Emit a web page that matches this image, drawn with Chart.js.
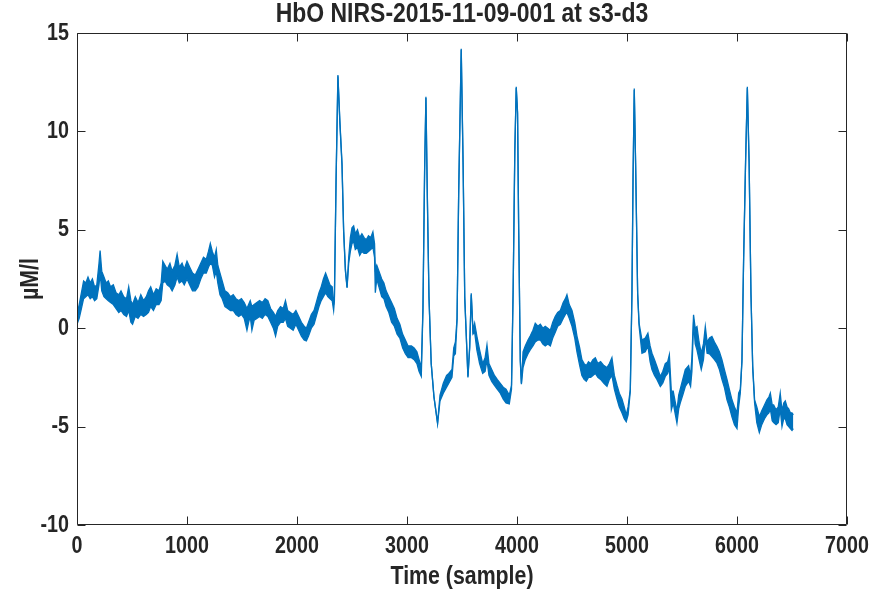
<!DOCTYPE html>
<html>
<head>
<meta charset="utf-8">
<title>HbO NIRS-2015-11-09-001 at s3-d3</title>
<script src="https://cdn.jsdelivr.net/npm/chart.js@4.4.1/dist/chart.umd.min.js"></script>
<style>
  html, body { margin: 0; padding: 0; background: #fff; }
  canvas { display: block; }
</style>
</head>
<body>
<canvas id="chart" width="872" height="590"></canvas>
<script>
// sample index, and upper / lower edge of the noisy trace (µM/l)
const samples = [
  0, 20, 40, 60, 80, 100, 120, 140, 160, 180,
  200, 210, 225, 245, 265, 285, 305, 330, 355, 380,
  400, 425, 450, 470, 490, 505, 530, 555, 580, 605,
  630, 650, 670, 695, 720, 745, 765, 780, 800, 820,
  845, 865, 890, 910, 930, 955, 975, 1000, 1025, 1050,
  1075, 1100, 1125, 1150, 1175, 1195, 1212, 1230, 1250, 1266,
  1280, 1300, 1320, 1345, 1370, 1395, 1420, 1445, 1470, 1495,
  1520, 1545, 1560, 1575, 1590, 1610, 1635, 1660, 1685, 1710,
  1735, 1760, 1785, 1805, 1825, 1850, 1875, 1895, 1915, 1940,
  1965, 1990, 2015, 2040, 2065, 2085, 2105, 2130, 2155, 2180,
  2200, 2220, 2240, 2260, 2280, 2300, 2320, 2333, 2340, 2355,
  2372, 2390, 2409, 2424, 2440, 2455, 2470, 2485, 2500, 2515,
  2530, 2550, 2570, 2590, 2610, 2630, 2650, 2670, 2690, 2705,
  2712, 2725, 2745, 2770, 2790, 2810, 2835, 2860, 2885, 2910,
  2935, 2960, 2985, 3010, 3040, 3065, 3090, 3110, 3130, 3145,
  3160, 3172, 3185, 3200, 3220, 3245, 3278, 3300, 3330, 3360,
  3380, 3409, 3425, 3440, 3455, 3470, 3493, 3510, 3525, 3554,
  3570, 3584, 3600, 3615, 3635, 3660, 3688, 3710, 3727, 3745,
  3770, 3795, 3820, 3848, 3875, 3900, 3930, 3950, 3965, 3980,
  3993, 4005, 4015, 4030, 4040, 4055, 4075, 4100, 4120, 4145,
  4166, 4190, 4212, 4235, 4257, 4280, 4303, 4325, 4348, 4370,
  4394, 4420, 4440, 4454, 4475, 4500, 4525, 4545, 4570, 4590,
  4610, 4630, 4650, 4670, 4690, 4712, 4735, 4760, 4790, 4818,
  4840, 4863, 4885, 4909, 4930, 4954, 4975, 4993, 5010, 5030,
  5045, 5055, 5066, 5078, 5097, 5110, 5136, 5166, 5190, 5210,
  5227, 5250, 5272, 5303, 5325, 5348, 5370, 5385, 5403, 5420,
  5440, 5454, 5470, 5484, 5507, 5530, 5560, 5578, 5590, 5605,
  5620, 5636, 5655, 5675, 5695, 5712, 5728, 5750, 5772, 5795,
  5818, 5840, 5863, 5885, 5909, 5930, 5954, 5977, 6000, 6015,
  6030, 6045, 6060, 6078, 6094, 6110, 6127, 6143, 6160, 6180,
  6203, 6225, 6250, 6272, 6290, 6303, 6320, 6333, 6355, 6375,
  6393, 6409, 6425, 6439, 6455, 6470, 6485, 6500, 6512
]

const upper = [
  0.7, 1.2, 1.8, 2.4, 2.3, 2.6, 2.3, 2.5, 2.1, 2.2,
  3.3, 3.95, 2.9, 2.6, 2.3, 2.4, 2.1, 2.2, 1.8, 1.7,
  1.9, 1.6, 1.5, 2.1, 1.4, 1.2, 1.6, 1.3, 1.7, 1.4,
  1.6, 1.9, 2.1, 1.7, 2.0, 1.9, 2.3, 3.4, 3.2, 3.0,
  3.3, 2.9, 3.2, 3.75, 3.1, 3.3, 3.0, 3.4, 3.1, 2.8,
  2.7, 3.0, 3.3, 3.6, 3.5, 3.9, 4.3, 3.9, 3.6, 4.0,
  3.2, 2.8, 2.4, 1.9, 1.8, 1.6, 1.7, 1.5, 1.4, 1.5,
  1.3, 1.0, 1.2, 1.4, 1.1, 1.2, 1.3, 1.4, 1.3, 1.5,
  1.4, 1.0, 0.8, 0.6, 0.9, 1.1, 1.0, 1.4, 0.9, 0.8,
  0.7, 0.9, 0.6, 0.3, 0.1, 0.0, 0.3, 0.7, 0.9, 1.4,
  1.8, 2.1, 2.5, 2.8, 2.5, 2.2, 2.1, 1.2, 1.6, 7.5,
  12.86, 10.5, 8.4, 5.0, 3.0, 2.1, 3.6, 4.6, 5.1, 5.2,
  4.8, 5.0, 4.6, 4.8, 4.6, 4.5, 4.7, 4.6, 4.9, 4.3,
  3.0, 3.2, 2.9, 2.5, 2.3, 1.9, 1.6, 1.3, 1.0, 0.5,
  0.2, -0.3, -0.6, -0.9, -0.9, -1.0, -1.2, -1.6, -2.0, 1.0,
  8.0, 11.76, 6.7, 1.6, -1.78, -3.47, -4.82, -3.4, -2.8, -2.4,
  -2.3, -2.1, -1.0, -0.7, 0.5, 7.0, 14.2, 8.4, 1.6, -2.45,
  -0.9, 1.78, -0.1, 0.25, -0.4, -1.1, -1.8, -1.5, -0.85, -1.8,
  -2.1, -2.4, -2.6, -2.8, -3.0, -3.1, -3.4, -2.9, 2.0, 9.0,
  12.27, 11.0, 5.2, -1.6, -2.8, -1.2, -0.9, -0.6, -0.4, -0.1,
  0.25, 0.1, 0.2, 0.0, 0.1, 0.0, -0.1, 0.3, 0.6, 0.8,
  0.9, 1.3, 1.5, 1.7, 1.2, 0.9, 0.3, -0.4, -1.0, -1.6,
  -1.8, -1.9, -1.7, -1.8, -1.6, -1.5, -1.8, -1.7, -1.9, -2.0,
  -1.8, -1.5, -2.4, -2.9, -3.3, -3.6, -4.0, -4.4, -4.0, -3.1,
  1.8, 7.7, 12.18, 8.5, 1.78, 0.25, -0.6, -0.5, -0.25, -0.9,
  -1.27, -1.6, -1.95, -2.45, -2.2, -1.8, -1.7, -1.35, -3.2, -3.2,
  -3.8, -4.2, -3.4, -3.1, -2.6, -2.1, -1.9, -2.4, -1.5, 0.68,
  0.0, 0.08, -0.7, -1.27, -0.8, 0.08, -0.7, -0.5, -0.42, -0.7,
  -0.93, -1.2, -1.6, -2.1, -2.6, -3.1, -3.64, -4.0, -4.3, -3.3,
  -3.1, -1.6, 3.5, 8.5, 12.27, 8.5, 1.78, -1.95, -3.64, -4.0,
  -4.5, -4.2, -3.9, -3.64, -3.5, -3.3, -3.9, -3.9, -4.15, -4.0,
  -3.3, -4.2, -3.8, -3.7, -4.0, -4.1, -4.3, -4.3, -4.4
]

const lower = [
  0.2, 0.5, 1.0, 1.5, 1.6, 1.7, 1.5, 1.6, 1.4, 1.5,
  2.2, 2.8, 1.9, 1.6, 1.5, 1.4, 1.3, 1.2, 1.0, 0.8,
  0.9, 0.7, 0.6, 0.9, 0.3, 0.2, 0.6, 0.5, 0.7, 0.6,
  0.7, 0.8, 1.1, 0.9, 1.2, 1.2, 1.4, 2.3, 2.4, 2.2,
  2.1, 1.9, 2.2, 2.6, 2.3, 2.4, 2.2, 2.5, 2.2, 1.9,
  1.9, 2.1, 2.5, 2.8, 2.8, 3.1, 3.3, 3.2, 2.6, 2.9,
  2.3, 1.7, 1.5, 1.1, 1.0, 0.9, 0.9, 0.7, 0.6, 0.7,
  0.5, -0.1, 0.3, 0.6, -0.1, 0.4, 0.5, 0.6, 0.5, 0.7,
  0.6, 0.3, 0.0, -0.4, 0.1, 0.3, 0.3, 0.5, 0.1, 0.0,
  -0.1, 0.2, -0.1, -0.4, -0.6, -0.65, -0.4, 0.0, 0.2, 0.7,
  1.1, 1.4, 1.6, 1.8, 1.6, 1.5, 1.4, 0.9, 1.4, 7.4,
  12.8, 10.4, 8.3, 4.9, 2.9, 2.05, 3.3, 3.9, 4.3, 4.4,
  4.0, 4.1, 3.7, 3.9, 3.8, 3.8, 3.9, 4.0, 4.1, 3.6,
  1.8, 2.5, 2.1, 1.6, 1.5, 1.1, 0.8, 0.3, 0.1, -0.3,
  -0.5, -1.0, -1.3, -1.5, -1.5, -1.6, -1.8, -2.2, -2.45, 0.9,
  7.9, 11.7, 6.6, 1.5, -1.8, -3.5, -4.85, -3.7, -3.3, -3.0,
  -2.8, -2.5, -1.4, -1.3, 0.4, 6.9, 14.15, 8.3, 1.5, -2.5,
  -1.0, 1.7, -0.3, -0.2, -1.1, -1.8, -2.3, -2.2, -1.6, -2.4,
  -2.7, -2.9, -3.1, -3.3, -3.6, -3.8, -3.85, -3.1, 1.9, 8.9,
  12.2, 10.9, 5.1, -1.7, -2.85, -2.0, -1.6, -1.3, -1.1, -0.9,
  -0.7, -0.6, -0.6, -0.8, -0.9, -0.8, -0.9, -0.5, -0.2, 0.1,
  0.2, 0.5, 0.7, 0.8, 0.5, 0.1, -0.5, -1.2, -1.9, -2.4,
  -2.6, -2.7, -2.5, -2.5, -2.4, -2.3, -2.5, -2.6, -2.8, -2.95,
  -2.6, -2.4, -3.1, -3.6, -4.0, -4.3, -4.6, -4.75, -4.4, -3.2,
  1.7, 7.6, 12.1, 8.4, 1.7, 0.1, -1.27, -1.2, -0.9, -1.7,
  -2.1, -2.4, -2.6, -2.96, -2.8, -2.45, -2.3, -2.0, -4.15, -3.8,
  -4.4, -4.82, -4.1, -3.8, -3.4, -2.96, -2.7, -2.96, -2.2, 0.3,
  -0.8, -1.1, -1.6, -2.1, -1.6, -0.5, -1.27, -1.3, -1.44, -1.6,
  -1.78, -2.1, -2.6, -3.0, -3.64, -4.0, -4.5, -4.9, -5.1, -4.0,
  -3.3, -1.7, 3.4, 8.4, 12.2, 8.4, 1.7, -2.05, -3.8, -4.8,
  -5.3, -4.9, -4.6, -4.4, -4.3, -4.1, -4.7, -4.8, -4.9, -4.8,
  -4.1, -5.0, -4.6, -4.6, -4.9, -5.0, -5.1, -5.2, -5.1
]

const xTicks = [0, 1000, 2000, 3000, 4000, 5000, 6000, 7000]
const yTicks = [-10, -5, 0, 5, 10, 15]

const blue = '#0072bd'
const axisColor = '#262626'
const family = "'Liberation Sans', Arial, Helvetica, sans-serif"

const toPoints = (vals) => samples.map((s, i) => ({ x: s, y: vals[i] }))

const canvas = document.getElementById('chart')
const ctx2d = canvas.getContext('2d')

// the figure's lettering is condensed; no narrow face is installed,
// so squeeze every glyph run horizontally around its anchor point
const rawFillText = ctx2d.fillText.bind(ctx2d)
ctx2d.fillText = function (text, x, y) {
  this.save()
  this.translate(x, y)
  this.scale(0.82, 1)
  rawFillText(text, 0, 0)
  this.restore()
}

// matlab-like box, ticks pointing inwards on all four sides
const boxPlugin = {
  id: 'matlabBox',
  afterDatasetsDraw(chart) {
    const { ctx, chartArea: a, scales: { x, y } } = chart
    const len = 8
    const L = Math.round(a.left) + 0.5
    const R = Math.round(a.right) - 0.5
    const T = Math.round(a.top) + 0.5
    const B = Math.round(a.bottom) - 0.5
    ctx.save()
    ctx.strokeStyle = axisColor
    ctx.lineWidth = 1
    ctx.beginPath()
    ctx.rect(L, T, R - L, B - T)
    xTicks.forEach((v) => {
      const px = Math.round(x.getPixelForValue(v)) + 0.5
      ctx.moveTo(px, B); ctx.lineTo(px, B - len)
      ctx.moveTo(px, T); ctx.lineTo(px, T + len)
    })
    yTicks.forEach((v) => {
      const py = Math.round(y.getPixelForValue(v)) + 0.5
      ctx.moveTo(L, py); ctx.lineTo(L + len, py)
      ctx.moveTo(R, py); ctx.lineTo(R - len, py)
    })
    ctx.stroke()
    ctx.restore()
  }
}

new Chart(canvas, {
  type: 'line',
  data: {
    datasets: [
      {
        label: 'lower',
        data: toPoints(lower),
        borderColor: blue,
        borderWidth: 1.3,
        pointRadius: 0,
        fill: false,
        tension: 0
      },
      {
        label: 'HbO',
        data: toPoints(upper),
        borderColor: blue,
        backgroundColor: blue,
        borderWidth: 1.3,
        pointRadius: 0,
        fill: '-1',
        tension: 0
      }
    ]
  },
  options: {
    responsive: false,
    animation: false,
    devicePixelRatio: 1,
    layout: { padding: { left: 0, right: 25, top: 0, bottom: 0 } },
    plugins: {
      legend: { display: false },
      tooltip: { enabled: false },
      title: {
        display: true,
        text: 'HbO NIRS-2015-11-09-001 at s3-d3',
        color: axisColor,
        fullSize: false,
        font: { family, size: 28, weight: 'bold', lineHeight: 1 },
        padding: { top: 0, bottom: 5 }
      }
    },
    scales: {
      x: {
        type: 'linear',
        min: 0,
        max: 7000,
        grid: { display: false, drawTicks: false },
        border: { display: false },
        afterBuildTicks: (s) => { s.ticks = xTicks.map((v) => ({ value: v })) },
        afterFit: (s) => {
          s.height = 65
          s.paddingLeft = 0
          s.paddingRight = 0
        },
        ticks: {
          color: axisColor,
          padding: 7,
          maxRotation: 0,
          autoSkip: false,
          font: { family, size: 24, weight: 'bold' },
          callback: (v) => String(v)
        },
        title: {
          display: true,
          text: 'Time (sample)',
          color: axisColor,
          font: { family, size: 26, weight: 'bold', lineHeight: 1 },
          padding: { top: 0, bottom: 0 }
        }
      },
      y: {
        type: 'linear',
        min: -10,
        max: 15,
        grid: { display: false, drawTicks: false },
        border: { display: false },
        afterBuildTicks: (s) => { s.ticks = yTicks.map((v) => ({ value: v })) },
        afterFit: (s) => {
          s.width = 77
          s.paddingTop = 0
          s.paddingBottom = 0
        },
        ticks: {
          color: axisColor,
          padding: 8,
          font: { family, size: 24, weight: 'bold' },
          callback: (v) => String(v)
        },
        title: {
          display: true,
          text: 'µM/l',
          color: axisColor,
          font: { family, size: 26, weight: 'bold', lineHeight: 1 },
          padding: { top: 18, bottom: 0 }
        }
      }
    }
  },
  plugins: [boxPlugin]
})
</script>
</body>
</html>
